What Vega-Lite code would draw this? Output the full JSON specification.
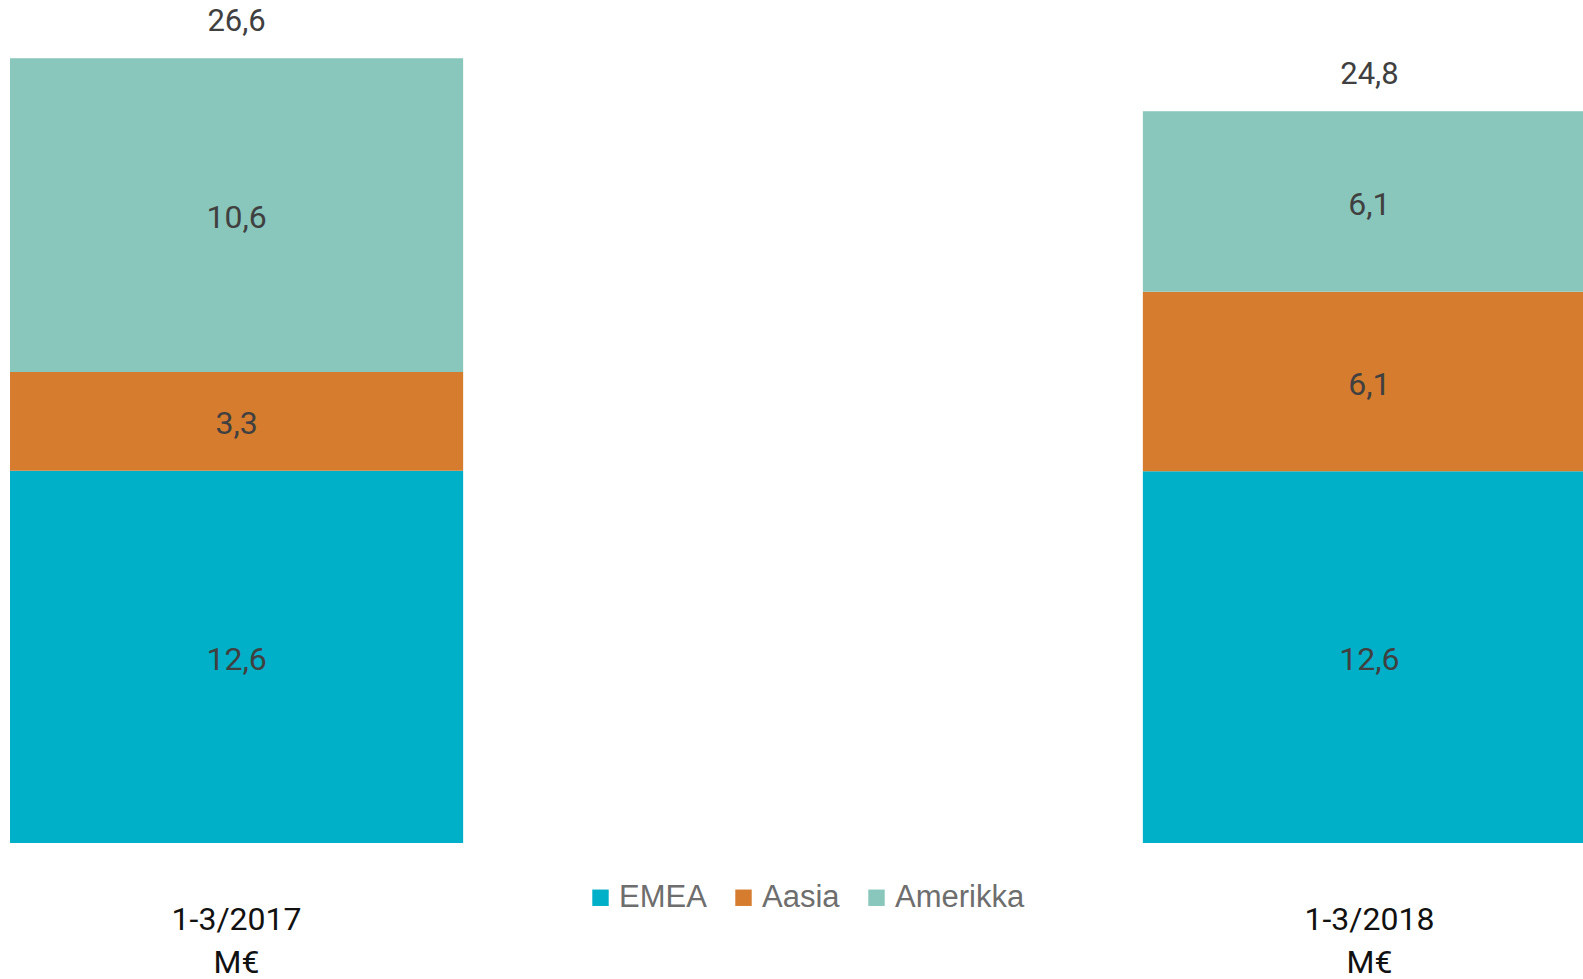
{
  "$schema": "https://vega.github.io/schema/vega-lite/v6.json",
  "width": 1583,
  "height": 843,
  "autosize": {"type": "none"},
  "padding": {"left": 0, "top": 0, "right": 0, "bottom": 136},
  "background": "#ffffff",
  "config": {
    "view": {"stroke": null},
    "locale": {"number": {"decimal": ",", "thousands": " ", "grouping": [3], "currency": ["", " €"]}}
  },
  "datasets": {
    "segments": [
      {"period": "1-3/2017", "region": "EMEA", "ord": 1, "value": 12.62},
      {"period": "1-3/2017", "region": "Aasia", "ord": 2, "value": 3.34},
      {"period": "1-3/2017", "region": "Amerikka", "ord": 3, "value": 10.64},
      {"period": "1-3/2018", "region": "EMEA", "ord": 1, "value": 12.6},
      {"period": "1-3/2018", "region": "Aasia", "ord": 2, "value": 6.08},
      {"period": "1-3/2018", "region": "Amerikka", "ord": 3, "value": 6.12}
    ]
  },
  "data": {"name": "segments"},
  "layer": [
    {
      "mark": {"type": "bar", "clip": true},
      "encoding": {
        "x": {
          "field": "period", "type": "nominal",
          "scale": {"domain": ["1-3/2017", "1-3/2018"], "range": [0, 1606], "paddingInner": 0.6, "paddingOuter": 0.00883},
          "axis": {
            "title": null, "domain": false, "ticks": false, "labelAngle": 0,
            "labelFont": "Roboto", "labelFontSize": 32, "labelColor": "#111111",
            "labelPadding": 61, "labelLineHeight": 43, "labelBaseline": "top",
            "labelExpr": "[datum.label, 'M€']"
          }
        },
        "y": {
          "field": "value", "type": "quantitative", "stack": "zero",
          "scale": {"domain": [0, 28.57], "nice": false, "zero": true},
          "axis": null
        },
        "color": {
          "field": "region", "type": "nominal",
          "scale": {"domain": ["EMEA", "Aasia", "Amerikka"], "range": ["#00B0C8", "#D67C2F", "#89C6BB"]},
          "legend": {
            "title": null, "orient": "none", "direction": "horizontal",
            "legendX": 585, "legendY": 882, "padding": 0,
            "symbolType": "square", "symbolSize": 270, "symbolStrokeWidth": 0,
            "labelFont": "Liberation Sans", "labelFontSize": 31, "labelColor": "#6e6e6e",
            "labelOffset": 3, "columnPadding": 21
          }
        },
        "order": {"field": "ord", "type": "quantitative"}
      }
    },
    {
      "mark": {"type": "text", "font": "Roboto", "fontSize": 32, "color": "#404040", "baseline": "middle", "align": "center", "dy": 3},
      "encoding": {
        "x": {"field": "period", "type": "nominal"},
        "y": {"field": "value", "type": "quantitative", "stack": "zero", "bandPosition": 0.5},
        "detail": {"field": "region"},
        "order": {"field": "ord", "type": "quantitative"},
        "text": {"field": "value", "type": "quantitative", "format": ".1f"}
      }
    },
    {
      "transform": [{"aggregate": [{"op": "sum", "field": "value", "as": "total"}], "groupby": ["period"]}],
      "mark": {"type": "text", "font": "Roboto", "fontSize": 31, "color": "#404040", "baseline": "middle", "align": "center", "dy": -36},
      "encoding": {
        "x": {"field": "period", "type": "nominal"},
        "y": {"field": "total", "type": "quantitative"},
        "text": {"field": "total", "type": "quantitative", "format": ".1f"}
      }
    }
  ]
}
